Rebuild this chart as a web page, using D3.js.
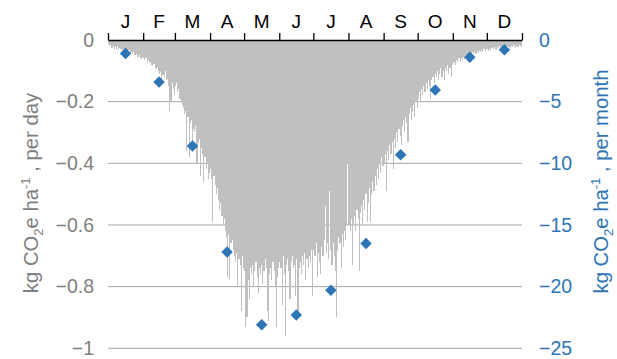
<!DOCTYPE html>
<html>
<head>
<meta charset="utf-8">
<script src="https://cdn.jsdelivr.net/npm/d3@7"></script>
<style>
  body { margin: 0; background: #fff; }
  svg { display: block; font-family: "Liberation Sans", Arial, sans-serif; }
</style>
</head>
<body>
<svg id="chart" width="617" height="359"></svg>
<script>
// --- data -------------------------------------------------------------
const monthLabels = ['J', 'F', 'M', 'A', 'M', 'J', 'J', 'A', 'S', 'O', 'N', 'D'];
const monthDays = [31, 28, 31, 30, 31, 30, 31, 31, 30, 31, 30, 31];

// monthly totals, kg CO2e ha-1 per month (right axis)
const monthlyTotals = [-1.1, -3.4, -8.6, -17.2, -23.1, -22.3, -20.3, -16.5, -9.3, -4.05, -1.4, -0.8];

// daily values, kg CO2e ha-1 per day (left axis)
const janDaily = [-0.012,-0.02,-0.015,-0.025,-0.018,-0.03,-0.022,-0.028,-0.02,-0.032,-0.025,-0.03,-0.035,-0.028,-0.038,-0.03,-0.036,-0.04,-0.034,-0.042,-0.038,-0.045,-0.04,-0.048,-0.05,-0.044,-0.055,-0.05,-0.058,-0.062,-0.055];
const febDaily = [-0.058,-0.065,-0.06,-0.07,-0.066,-0.075,-0.07,-0.08,-0.085,-0.078,-0.09,-0.095,-0.088,-0.1,-0.11,-0.105,-0.135,-0.115,-0.12,-0.1,-0.13,-0.125,-0.15,-0.23,-0.2,-0.14,-0.16,-0.175];
const marDaily = [-0.15,-0.14,-0.17,-0.16,-0.19,-0.2,-0.21,-0.22,-0.24,-0.23,-0.36,-0.25,-0.38,-0.27,-0.26,-0.34,-0.29,-0.3,-0.28,-0.4,-0.33,-0.32,-0.44,-0.35,-0.37,-0.46,-0.38,-0.42,-0.4,-0.45,-0.43];
const aprDaily = [-0.42,-0.45,-0.59,-0.44,-0.47,-0.5,-0.48,-0.52,-0.55,-0.53,-0.57,-0.6,-0.58,-0.62,-0.64,-0.77,-0.63,-0.78,-0.66,-0.65,-0.68,-0.7,-0.72,-0.69,-0.8,-0.71,-0.73,-0.88,-0.7,-0.74];
const mayDaily = [-0.75,-0.93,-0.9,-0.78,-0.84,-0.74,-0.76,-0.73,-0.8,-0.75,-0.72,-0.77,-0.82,-0.74,-0.76,-0.73,-0.79,-0.75,-0.71,-0.74,-0.88,-0.91,-0.76,-0.74,-0.78,-0.72,-0.75,-0.8,-0.93,-0.77,-0.74];
const junDaily = [-0.72,-0.74,-0.86,-0.7,-0.76,-0.96,-0.73,-0.71,-0.75,-0.84,-0.72,-0.7,-0.74,-0.73,-0.83,-0.71,-0.9,-0.74,-0.72,-0.76,-0.7,-0.73,-0.69,-0.78,-0.71,-0.74,-0.7,-0.72,-0.68,-0.83];
const julDaily = [-0.68,-0.7,-0.66,-0.77,-0.69,-0.72,-0.76,-0.67,-0.7,-0.65,-0.54,-0.69,-0.66,-0.71,-0.49,-0.68,-0.73,-0.66,-0.7,-0.75,-0.9,-0.68,-0.64,-0.66,-0.74,-0.63,-0.67,-0.62,-0.65,-0.6,-0.4];
const augDaily = [-0.6,-0.62,-0.58,-0.73,-0.6,-0.57,-0.62,-0.55,-0.58,-0.75,-0.56,-0.54,-0.6,-0.52,-0.55,-0.5,-0.59,-0.53,-0.48,-0.59,-0.5,-0.46,-0.49,-0.44,-0.47,-0.42,-0.45,-0.4,-0.43,-0.38,-0.41];
const sepDaily = [-0.4,-0.37,-0.49,-0.36,-0.39,-0.34,-0.37,-0.33,-0.42,-0.32,-0.35,-0.3,-0.33,-0.29,-0.31,-0.34,-0.28,-0.26,-0.3,-0.25,-0.27,-0.33,-0.24,-0.22,-0.26,-0.23,-0.21,-0.25,-0.2,-0.22];
const octDaily = [-0.19,-0.17,-0.2,-0.16,-0.18,-0.15,-0.17,-0.14,-0.16,-0.13,-0.15,-0.19,-0.13,-0.12,-0.14,-0.11,-0.12,-0.1,-0.13,-0.11,-0.09,-0.12,-0.1,-0.13,-0.09,-0.1,-0.08,-0.11,-0.09,-0.12,-0.08];
const novDaily = [-0.075,-0.07,-0.08,-0.065,-0.07,-0.06,-0.072,-0.058,-0.065,-0.055,-0.062,-0.05,-0.058,-0.048,-0.055,-0.045,-0.05,-0.04,-0.046,-0.038,-0.044,-0.036,-0.042,-0.035,-0.04,-0.032,-0.038,-0.03,-0.036,-0.028];
const decDaily = [-0.03,-0.035,-0.028,-0.033,-0.025,-0.03,-0.022,-0.028,-0.032,-0.024,-0.027,-0.02,-0.025,-0.03,-0.022,-0.026,-0.02,-0.024,-0.018,-0.022,-0.026,-0.019,-0.023,-0.017,-0.021,-0.025,-0.018,-0.022,-0.016,-0.02,-0.024];

const leftTicks = [0, -0.2, -0.4, -0.6, -0.8, -1];
const rightTicks = [0, -5, -10, -15, -20, -25];

// --- setup ------------------------------------------------------------
const daily = [].concat(janDaily, febDaily, marDaily, aprDaily, mayDaily, junDaily,
  julDaily, augDaily, sepDaily, octDaily, novDaily, decDaily);

const monthStarts = [];
monthDays.reduce((acc, n) => { monthStarts.push(acc); return acc + n; }, 0);
const totalDays = d3.sum(monthDays);

const grayText = '#808080';
const blue = '#2E75B6';
const fontFamily = '"Liberation Sans", Arial, sans-serif';
const plot = { left: 108, right: 522, top: 40, bottom: 348.3 };

const svg = d3.select('#chart');

const x = d3.scaleLinear().domain([0, totalDays]).range([plot.left, plot.right]);
const yDay = d3.scaleLinear().domain([0, -1]).range([plot.top, plot.bottom]);
const yMonth = d3.scaleLinear().domain([0, -25]).range([plot.top, plot.bottom]);

// gridlines (behind bars)
svg.append('g')
  .selectAll('line')
  .data(leftTicks.filter(t => t !== 0))
  .join('line')
  .attr('x1', plot.left)
  .attr('x2', plot.right)
  .attr('y1', d => yDay(d))
  .attr('y2', d => yDay(d))
  .attr('stroke', '#a6a6a6')
  .attr('stroke-width', 1);

// daily bars, snapped to pixels so neighbours fuse without seams
svg.append('g')
  .attr('shape-rendering', 'crispEdges')
  .selectAll('rect')
  .data(daily)
  .join('rect')
  .attr('x', (d, i) => x(i))
  .attr('width', (d, i) => x(i + 1) - x(i))
  .attr('y', yDay(0))
  .attr('height', d => yDay(d) - yDay(0))
  .attr('fill', '#c0c0c0');

// monthly diamonds
svg.append('g')
  .selectAll('path')
  .data(monthlyTotals)
  .join('path')
  .attr('d', d3.symbol(d3.symbolSquare, 66))
  .attr('transform', (d, i) => `translate(${x(monthStarts[i] + monthDays[i] / 2)},${yMonth(d)}) rotate(45)`)
  .attr('fill', blue);

// top axis with month boundary ticks
const topAxis = svg.append('g')
  .attr('transform', `translate(0,${plot.top})`)
  .call(d3.axisTop(x)
    .tickValues(monthStarts.concat([totalDays]))
    .tickSize(7)
    .tickSizeOuter(0)
    .tickFormat(''));
topAxis.selectAll('path, line').attr('stroke', '#000').attr('stroke-width', 1.3);

svg.append('g')
  .selectAll('text')
  .data(monthLabels)
  .join('text')
  .attr('x', (d, i) => x(monthStarts[i] + monthDays[i] / 2))
  .attr('y', 28)
  .attr('text-anchor', 'middle')
  .attr('font-size', 19)
  .attr('fill', '#000')
  .text(d => d);

// left axis labels
const leftAxis = svg.append('g')
  .attr('transform', `translate(${plot.left},0)`)
  .call(d3.axisLeft(yDay).tickValues(leftTicks).tickSize(0).tickPadding(14).tickFormat(d3.format('')));
leftAxis.select('.domain').remove();
leftAxis.attr('font-family', fontFamily).attr('font-size', 19.5);
leftAxis.selectAll('text').attr('fill', grayText);

// right axis labels
const rightAxis = svg.append('g')
  .attr('transform', `translate(${plot.right},0)`)
  .call(d3.axisRight(yMonth).tickValues(rightTicks).tickSize(0).tickPadding(17).tickFormat(d3.format('')));
rightAxis.select('.domain').remove();
rightAxis.attr('font-family', fontFamily).attr('font-size', 19.5);
rightAxis.selectAll('text').attr('fill', blue);

// axis titles with sub/superscripts
function axisTitle(cx, cy, color, tail) {
  const t = svg.append('text')
    .attr('transform', `translate(${cx},${cy}) rotate(-90)`)
    .attr('text-anchor', 'middle')
    .attr('font-size', 20.3)
    .attr('fill', color);
  t.append('tspan').text('kg CO');
  t.append('tspan').attr('font-size', 13).attr('dy', 5).text('2');
  t.append('tspan').attr('dy', -5).text('e ha');
  t.append('tspan').attr('font-size', 13).attr('dy', -8).text('-1');
  t.append('tspan').attr('dy', 8).text(' , ' + tail);
}
axisTitle(38, 193, grayText, 'per day');
axisTitle(608, 181.5, blue, 'per month');
</script>
</body>
</html>
